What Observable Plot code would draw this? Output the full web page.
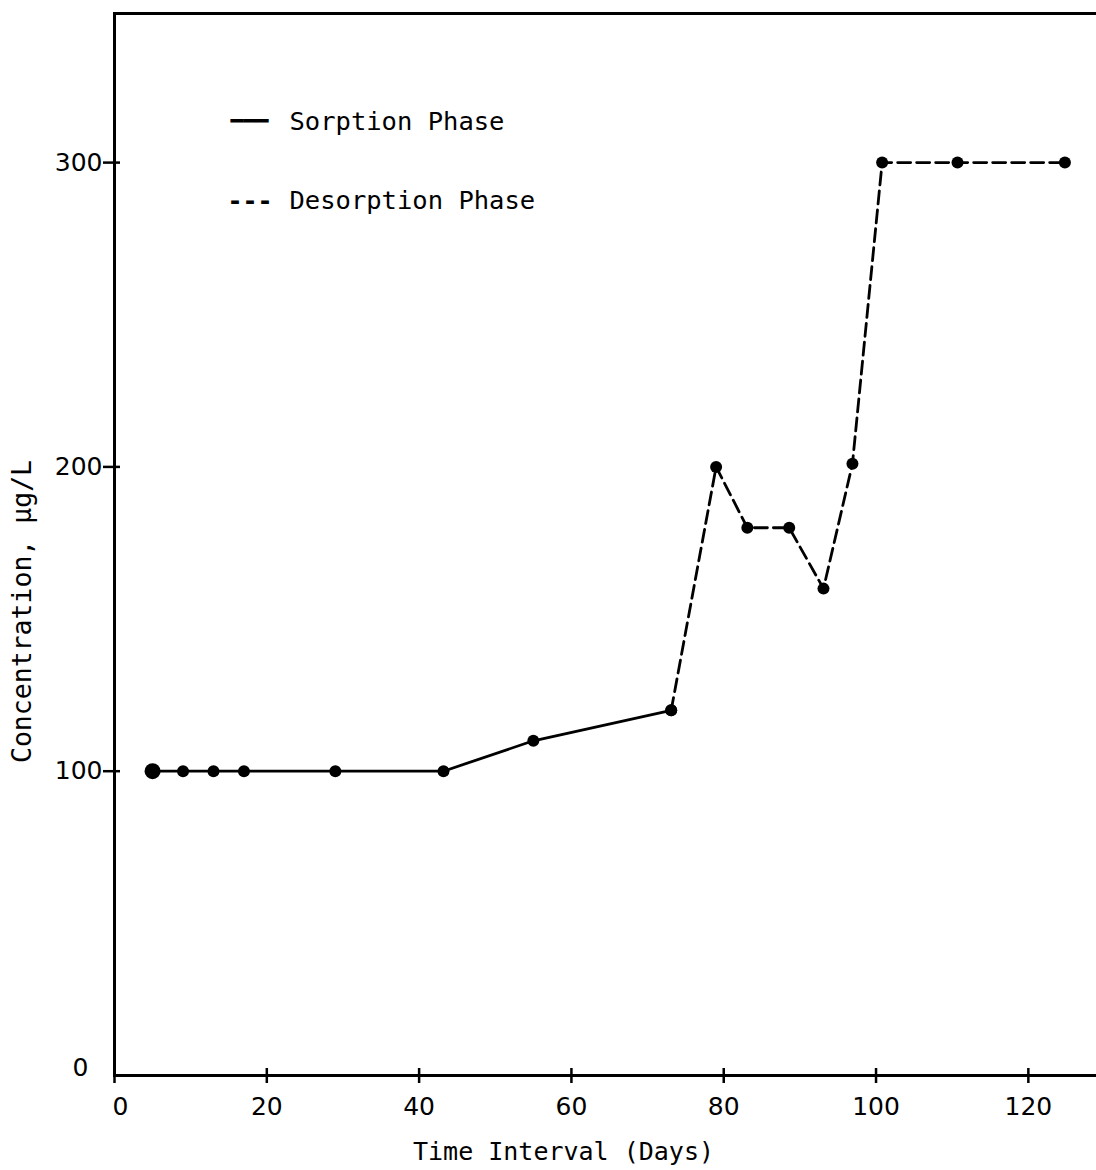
<!DOCTYPE html>
<html><head><meta charset="utf-8">
<script src="https://cdn.jsdelivr.net/npm/d3@7"></script>
<script src="https://cdn.jsdelivr.net/npm/@observablehq/plot@0.6"></script>
<style>html,body{margin:0;padding:0;background:#fff;overflow:hidden;width:1096px;height:1170px}
svg{max-width:none !important;}</style>
</head><body><div id="chart"></div>
<script>
const sorptionDays = [5, 9, 13, 17, 29, 43.2, 55, 73.1];
const sorptionConc = [100, 100, 100, 100, 100, 100, 110, 120];
const desorptionDays = [73.1, 79, 83.1, 88.6, 93.1, 96.9, 100.8, 110.7, 124.8];
const desorptionConc = [120, 200, 180, 180, 160, 201, 300, 300, 300];
const xTicks = [0, 20, 40, 60, 80, 100, 120];
const yTicks = [100, 200, 300];
const yZeroTick = [0];
const legendLabels = ["Sorption Phase", "Desorption Phase"];
const legendSamples = ["━━━", "---"];
const xLabel = "Time Interval (Days)";
const yLabel = "Concentration, µg/L";

const sorption = sorptionDays.map((d, i) => ({day: d, conc: sorptionConc[i]}));
const desorption = desorptionDays.map((d, i) => ({day: d, conc: desorptionConc[i]}));
const firstPoint = sorption.slice(0, 1);
const mono = "'DejaVu Sans Mono', 'Liberation Mono', monospace";
const sans = "'DejaVu Sans', sans-serif";

const chart = Plot.plot({
  width: 1110, height: 1170,
  marginLeft: 114, marginRight: 6, marginTop: 13, marginBottom: 95,
  x: {domain: [0, 130]},
  y: {domain: [0, 349]},
  style: {fontFamily: sans, fontSize: "24px", color: "black", background: "white", maxWidth: "none"},
  marks: [
    Plot.frame({stroke: "black", strokeWidth: 3}),
    Plot.axisX({ticks: xTicks, tickSize: 15, dy: -7, fill: "none", strokeWidth: 2.5, label: null}),
    Plot.axisX({ticks: xTicks.filter(t => t !== 0), tickSize: 0, tickPadding: 22, label: null, fontSize: 25, fontFamily: sans}),
    Plot.axisX({ticks: [0], tickSize: 0, tickPadding: 22, dx: 6, label: null, fontSize: 25, fontFamily: sans}),
    Plot.axisY({ticks: yTicks, tickSize: 17, dx: 6, fill: "none", strokeWidth: 2.5, label: null}),
    Plot.axisY({ticks: yTicks, tickSize: 0, tickPadding: 12, label: null, fontSize: 25, fontFamily: sans}),
    Plot.axisY({ticks: yZeroTick, tickSize: 0, tickPadding: 26, dy: -8, label: null, fontSize: 25, fontFamily: sans}),
    Plot.line(sorption, {x: "day", y: "conc", stroke: "black", strokeWidth: 2.8}),
    Plot.line(desorption, {x: "day", y: "conc", stroke: "black", strokeWidth: 2.8, strokeDasharray: "13,6"}),
    Plot.dot(sorption.concat(desorption), {x: "day", y: "conc", r: 6, fill: "black"}),
    Plot.dot(firstPoint, {x: "day", y: "conc", r: 8, fill: "black"}),
    Plot.text([xLabel], {text: d => d, frameAnchor: "bottom", lineAnchor: "middle", textAnchor: "middle", dx: -46, dy: 76, fontFamily: mono, fontSize: 25}),
    Plot.text([yLabel], {text: d => d, frameAnchor: "left", lineAnchor: "middle", textAnchor: "middle", rotate: -90, dx: -92, dy: 67, fontFamily: mono, fontSize: 26.5}),
    Plot.text(legendLabels.slice(0, 1), {text: d => d, frameAnchor: "top-left", lineAnchor: "middle", textAnchor: "start", dx: 175, dy: 108, fontFamily: mono, fontSize: 25.5}),
    Plot.text(legendLabels.slice(1, 2), {text: d => d, frameAnchor: "top-left", lineAnchor: "middle", textAnchor: "start", dx: 175, dy: 187, fontFamily: mono, fontSize: 25.5}),
    Plot.text(legendSamples.slice(0, 1), {text: d => d, frameAnchor: "top-left", lineAnchor: "middle", textAnchor: "start", dx: 116, dy: 108, fontFamily: mono, fontSize: 21}),
    Plot.text(legendSamples.slice(1, 2), {text: d => d, frameAnchor: "top-left", lineAnchor: "middle", textAnchor: "start", dx: 113, dy: 187, fontFamily: mono, fontSize: 25, fontWeight: "bold"})
  ]
});
document.getElementById("chart").appendChild(chart);
</script>
</body></html>
